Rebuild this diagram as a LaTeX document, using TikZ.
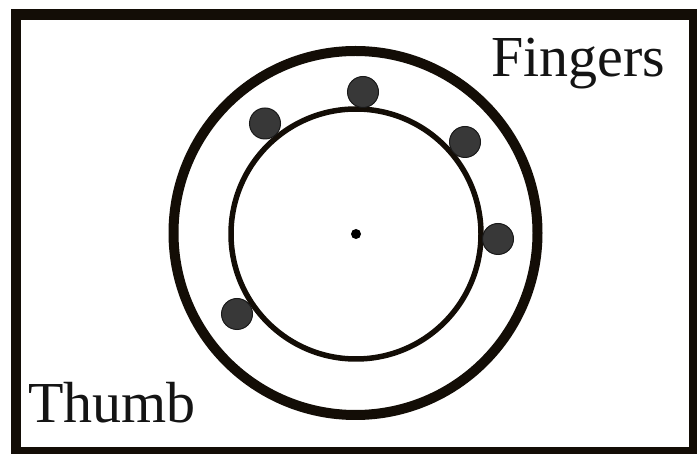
\documentclass[tikz,border=0pt]{standalone}
\usepackage{fontspec}
\setmainfont{Liberation Serif}
\begin{document}
\begin{tikzpicture}[x=1pt,y=-1pt,
  ink/.style={draw=black!90!brown},
  finger/.style={circle, fill=black!78, draw=black!90, line width=1pt, minimum size=31pt, inner sep=0pt},
  label/.style={font=\fontsize{58}{62}\selectfont, inner sep=0pt, anchor=base west, text=black!92}]
\useasboundingbox (0,0) rectangle (697,454);
\fill[white] (0,0) rectangle (697,454);
\draw[ink, line width=10.5pt] (16,14.5) rectangle (694,452);
\node[circle, ink, line width=10pt, minimum size=364pt, inner sep=0pt] (outer) at (355.5,233) {};
\node[circle, ink, line width=5.5pt, minimum size=250pt, inner sep=0pt] (inner) at (356,234) {};
\node[circle, fill=black, minimum size=10pt, inner sep=0pt] (center) at (356,234) {};
\node[finger] (f1) at (363,92) {};
\node[finger] (f2) at (265,123.5) {};
\node[finger] (f3) at (465,142) {};
\node[finger] (f4) at (498,239) {};
\node[finger] (t) at (237,314) {};
\node[label] (fingers) at (491,77) {Fingers};
\node[label] (thumb) at (28,423) {Thumb};
\end{tikzpicture}
\end{document}
